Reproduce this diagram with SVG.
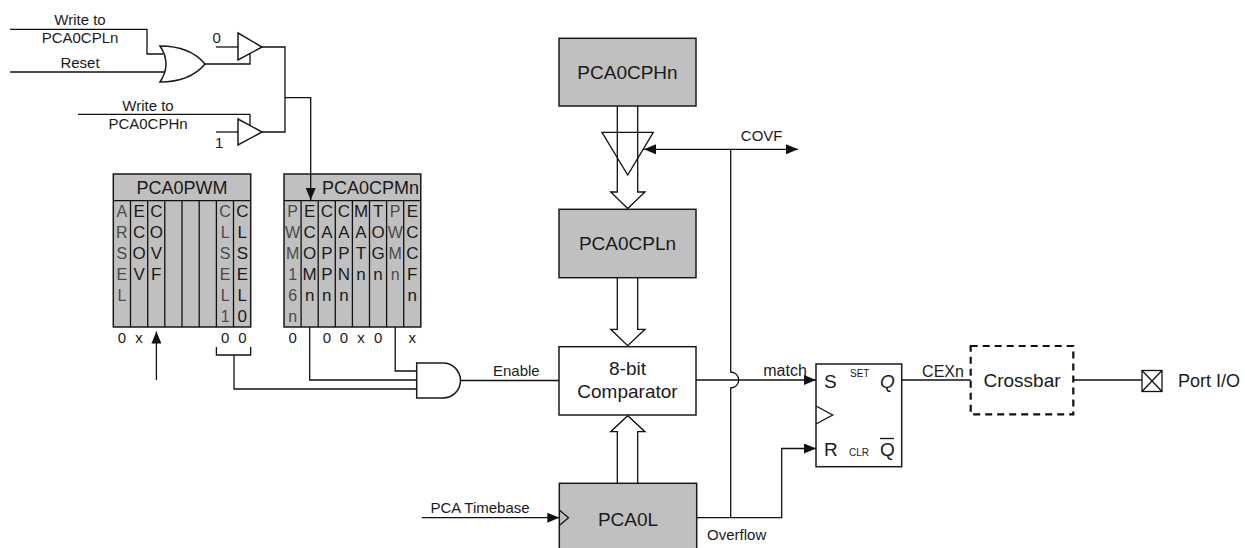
<svg xmlns="http://www.w3.org/2000/svg" width="1245" height="548" viewBox="0 0 1245 548">
<style>
.w{fill:none;stroke:#111;stroke-width:1.3}
.box{fill:#c0c0c0;stroke:#1a1a1a;stroke-width:1.5}
.wb{fill:#fff;stroke:#1a1a1a;stroke-width:1.5}
.t{font-family:"Liberation Sans",Arial,sans-serif;fill:#1a1a1a}
.s15{font-size:15px}
.s18{font-size:18px}
.s19{font-size:19px}
.c{text-anchor:middle}
.cr{font-family:"Liberation Sans",Arial,sans-serif;font-size:17px;fill:#1a1a1a;text-anchor:middle}
.cn{font-family:"Liberation Sans",Arial,sans-serif;font-size:16px;fill:#4a4a4a;text-anchor:middle}
</style>
<defs>
<marker id="arr" markerUnits="userSpaceOnUse" markerWidth="12" markerHeight="10" refX="12" refY="5" orient="auto">
<path d="M0,0 L12,5 L0,10 z" fill="#111"/>
</marker>
</defs>

<g id="top-logic">
<text class="t s15 c" x="80" y="25">Write to</text>
<text class="t s15 c" x="80" y="43">PCA0CPLn</text>
<text class="t s15 c" x="80" y="68">Reset</text>
<text class="t s15 c" x="148" y="111">Write to</text>
<text class="t s15 c" x="148" y="129">PCA0CPHn</text>
<text class="t s15" x="212.5" y="43">0</text>
<text class="t s15" x="215" y="148">1</text>
<path id="or-gate" class="wb" d="M160,46 Q190,46 205,64 Q190,82 160,82 Q172,64 160,46 z"/>
<polygon id="buf0" class="wb" points="238,33 262,47 238,60"/>
<polygon id="buf1" class="wb" points="238,119 262,132 238,145"/>
</g>

<g id="pca0pwm">
<rect class="box" x="113.3" y="174" width="137.4" height="153"/>
<path class="w" d="M113.3,200.7 H250.7 M130.5,200.7 V327 M147.7,200.7 V327 M164.8,200.7 V327 M182,200.7 V327 M199.2,200.7 V327 M216.4,200.7 V327 M233.5,200.7 V327"/>
<text class="t s18 c" x="182" y="194">PCA0PWM</text>
<text class="cn"><tspan x="121.9" y="217">A</tspan><tspan x="121.9" y="238">R</tspan><tspan x="121.9" y="259">S</tspan><tspan x="121.9" y="280">E</tspan><tspan x="121.9" y="301">L</tspan></text>
<text class="cr"><tspan x="139.1" y="217">E</tspan><tspan x="139.1" y="238">C</tspan><tspan x="139.1" y="259">O</tspan><tspan x="139.1" y="280">V</tspan></text>
<text class="cr"><tspan x="156.3" y="217">C</tspan><tspan x="156.3" y="238">O</tspan><tspan x="156.3" y="259">V</tspan><tspan x="156.3" y="280">F</tspan></text>
<text class="cn"><tspan x="225.1" y="217">C</tspan><tspan x="225.1" y="238">L</tspan><tspan x="225.1" y="259">S</tspan><tspan x="225.1" y="280">E</tspan><tspan x="225.1" y="301">L</tspan><tspan x="225.1" y="322">1</tspan></text>
<text class="cr"><tspan x="242.3" y="217">C</tspan><tspan x="242.3" y="238">L</tspan><tspan x="242.3" y="259">S</tspan><tspan x="242.3" y="280">E</tspan><tspan x="242.3" y="301">L</tspan><tspan x="242.3" y="322">0</tspan></text>
<text class="t s15 c"><tspan x="121.9" y="343">0</tspan><tspan x="139.1" y="343">x</tspan><tspan x="225.1" y="343">0</tspan><tspan x="242.3" y="343">0</tspan></text>
</g>

<g id="pca0cpmn">
<rect class="box" x="284" y="174" width="136.8" height="153"/>
<path class="w" d="M284,200.7 H420.8 M301.1,200.7 V327 M318.2,200.7 V327 M335.3,200.7 V327 M352.4,200.7 V327 M369.5,200.7 V327 M386.6,200.7 V327 M403.7,200.7 V327"/>
<text class="t s18" x="419" y="194" text-anchor="end">PCA0CPMn</text>
<text class="cn"><tspan x="292.6" y="217">P</tspan><tspan x="292.6" y="238">W</tspan><tspan x="292.6" y="259">M</tspan><tspan x="292.6" y="280">1</tspan><tspan x="292.6" y="301">6</tspan><tspan x="292.6" y="322">n</tspan></text>
<text class="cr"><tspan x="309.7" y="217">E</tspan><tspan x="309.7" y="238">C</tspan><tspan x="309.7" y="259">O</tspan><tspan x="309.7" y="280">M</tspan><tspan x="309.7" y="301">n</tspan></text>
<text class="cr"><tspan x="326.8" y="217">C</tspan><tspan x="326.8" y="238">A</tspan><tspan x="326.8" y="259">P</tspan><tspan x="326.8" y="280">P</tspan><tspan x="326.8" y="301">n</tspan></text>
<text class="cr"><tspan x="343.9" y="217">C</tspan><tspan x="343.9" y="238">A</tspan><tspan x="343.9" y="259">P</tspan><tspan x="343.9" y="280">N</tspan><tspan x="343.9" y="301">n</tspan></text>
<text class="cr"><tspan x="361" y="217">M</tspan><tspan x="361" y="238">A</tspan><tspan x="361" y="259">T</tspan><tspan x="361" y="280">n</tspan></text>
<text class="cr"><tspan x="378.1" y="217">T</tspan><tspan x="378.1" y="238">O</tspan><tspan x="378.1" y="259">G</tspan><tspan x="378.1" y="280">n</tspan></text>
<text class="cn"><tspan x="395.2" y="217">P</tspan><tspan x="395.2" y="238">W</tspan><tspan x="395.2" y="259">M</tspan><tspan x="395.2" y="280">n</tspan></text>
<text class="cr"><tspan x="412.3" y="217">E</tspan><tspan x="412.3" y="238">C</tspan><tspan x="412.3" y="259">C</tspan><tspan x="412.3" y="280">F</tspan><tspan x="412.3" y="301">n</tspan></text>
<text class="t s15 c"><tspan x="292.6" y="343">0</tspan><tspan x="326.8" y="343">0</tspan><tspan x="343.9" y="343">0</tspan><tspan x="361" y="343">x</tspan><tspan x="378.1" y="343">0</tspan><tspan x="412.3" y="343">x</tspan></text>
</g>

<g id="pca0cphn">
<rect class="box" x="559" y="38.3" width="137" height="67.7"/>
<text class="t s19 c" x="627.5" y="79">PCA0CPHn</text>
</g>

<g id="pca0cpln">
<rect class="box" x="559" y="209.3" width="137" height="68.4"/>
<text class="t s19 c" x="627.5" y="250">PCA0CPLn</text>
</g>

<g id="comparator">
<rect class="wb" x="559" y="346.7" width="137" height="68.3"/>
<text class="t s19 c" x="627.5" y="375">8-bit</text>
<text class="t s19 c" x="627.5" y="398">Comparator</text>
</g>

<g id="pca0l">
<rect class="box" x="559.3" y="483.3" width="137.4" height="70"/>
<path class="w" d="M559.3,510 L568.5,517.7 L559.3,525.4"/>
<text class="t s19 c" x="628" y="526">PCA0L</text>
</g>

<g id="flipflop">
<rect class="wb" x="816" y="364" width="85.7" height="102.7"/>
<path class="w" d="M816,406 L832.7,415 L816,424"/>
<text class="t s19" x="824" y="388">S</text>
<text class="t" style="font-size:10px" x="850" y="377">SET</text>
<text class="t s19" x="880" y="388" font-style="italic">Q</text>
<text class="t s19" x="824" y="456">R</text>
<text class="t" style="font-size:10px" x="849" y="456">CLR</text>
<text class="t s19" x="880" y="456">Q</text>
<path class="w" d="M880,438.5 H894"/>
</g>

<g id="crossbar">
<rect x="970.7" y="346" width="102.6" height="68.3" fill="none" stroke="#111" stroke-width="2.2" stroke-dasharray="7,5"/>
<text class="t s19 c" x="1022" y="387">Crossbar</text>
</g>

<g id="port">
<rect class="w" x="1142" y="370.5" width="20" height="21"/>
<path class="w" d="M1142,370.5 L1162,391.5 M1162,370.5 L1142,391.5"/>
<text class="t s18" x="1178" y="387">Port I/O</text>
</g>

<g id="connectors">
<path class="w" d="M10,29.3 H147 V54 H163"/>
<path class="w" d="M10,72 H165"/>
<path class="w" d="M205,64 H250 V53.5"/>
<path class="w" d="M216,47 H238"/>
<path class="w" d="M78,114.3 H250 V125.5"/>
<path class="w" d="M216,132 H238"/>
<path class="w" d="M262,47 H285 V132 H262"/>
<path class="w" d="M285,97.7 H310.7 V200" marker-end="url(#arr)"/>
<path class="w" d="M156.4,380 V331.5" marker-end="url(#arr)"/>
<path class="w" d="M216.4,347 V355 H250.7 V347"/>
<path class="w" d="M234,355 V389 H416.7"/>
<path class="w" d="M309.7,327 V380 H416.7"/>
<path class="w" d="M395.2,327 V371 H416.7"/>
<path class="w" d="M461,380.5 H559"/>
<path class="w" d="M696,380 H816" marker-end="url(#arr)"/>
<path class="w" d="M730.7,149.3 H798" marker-end="url(#arr)"/>
<path class="w" d="M730.7,149.3 H644" marker-end="url(#arr)"/>
<path class="w" d="M730.7,149.3 V372 A8,8 0 0 1 730.7,388 V517.7"/>
<path class="w" d="M696.7,517.7 H781.7 V448.5 H816" marker-end="url(#arr)"/>
<path class="w" d="M421.7,517.7 H559.3" marker-end="url(#arr)"/>
<path class="w" d="M901.7,380 H970.7"/>
<path class="w" d="M1073.3,380 H1142"/>
<polygon class="w" points="602,132.3 653.3,132.3 627.7,175"/>
<path class="w" d="M617.3,106 V192 H610.7 L627.7,208.5 L645,192 H637.7 V106"/>
<path class="w" d="M617.3,277.7 V329.3 H610.7 L627.7,345.7 L645,329.3 H637.7 V277.7"/>
<path class="w" d="M617.3,483.3 V431.7 H610.7 L627.7,415.7 L645,431.7 H637.7 V483.3"/>
<path id="and-gate" class="wb" d="M416.7,363 H443 A17.5,17.5 0 0 1 443,398 H416.7 z"/>
<text class="t s15" x="493" y="376">Enable</text>
<text class="t c" style="font-size:16px" x="785" y="376">match</text>
<text class="t c" style="font-size:16px" x="943" y="377">CEXn</text>
<text class="t c" style="font-size:15px" x="761.7" y="141">COVF</text>
<text class="t c" style="font-size:15px" x="480" y="513">PCA Timebase</text>
<text class="t c" style="font-size:15px" x="736.7" y="540">Overflow</text>
</g>
</svg>
